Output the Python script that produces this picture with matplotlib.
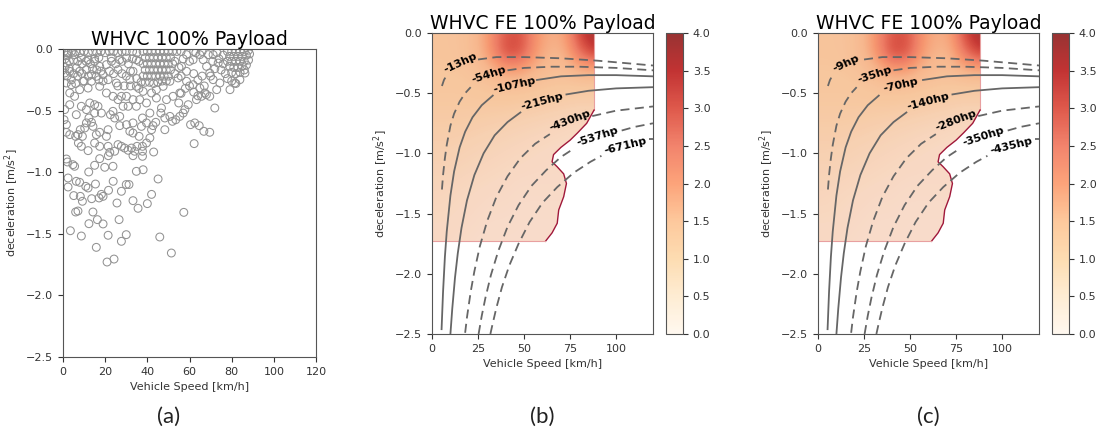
import matplotlib.pyplot as plt
from matplotlib.patches import Polygon
import numpy as np

# ---- panel (a): WHVC scatter, speed [km/h] vs deceleration [m/s2] ----
scatter_speed = [
    57.3, 51.4, 45.9, 45.1, 42, 40, 35.6, 33.2, 34.8, 38, 43, 62.2, 69.6, 66.8, 64.6, 60.5, 62.5, 72, 79.2,
    30, 30, 31.3, 27.7, 26.6, 25.6, 23.8, 21.6, 21.4, 20.9, 24.2, 27.7, 15.8, 16.3, 19, 14.2, 12.3, 8.7, 3.5,
    7.1, 6.0, 5.1, 8.2, 9.2, 13.6, 17.1, 18.2, 19, 11.9, 10.8, 2.4, 6.3, 7.9, 2.4, 4.7, 5.5, 1.6, 2.1, 12.2,
    15.4, 15, 19.8, 23.7, 21.5, 17.4, 11.9, 15, 17.4, 21.4, 22.2, 24.5, 26.1, 27.7, 29.2, 30.9, 32.5, 34,
    33.2, 35.1, 37.7, 37.7, 37.7, 39.6, 41.2, 42, 42.7, 44, 48.3, 48.3, 50.7, 51.9, 53.5, 55.4, 57, 57.8,
    59.4, 54.9, 46.7, 46.4, 41.2, 37.7, 37.2, 39.6, 36.1, 33.2, 31.7, 30.1, 33.2, 26.9, 24.5, 22.5, 23.7,
    26.9, 28.5, 30.9, 33.2, 34.8, 36.4, 39.6, 20.6, 21.4, 17.4, 15.8, 14.2, 13.5, 12.3, 11.1, 10.3, 8.2,
    7.1, 6, 9.2, 8.7, 7.3, 3.2, 1.6, 1.6, 0.5, 0.8, 3.2, 6.3, 8.7, 11.1, 12.7, 15, 16.6, 18.2, 15, 5.5, 3.2,
    7.9, 11.9, 9.5, 13.5, 17.4, 20.6, 23.7, 26.1, 27.7, 30.1, 25.3, 21.4, 26.1, 30.1, 26.9, 22.9, 20.6,
    17.4, 15, 11.9, 8.7, 5.5, 2.4, 1.6, 0.8, 3.2, 6.3, 7.9, 11.1, 13.5, 15.8, 19, 1.6, 4, 1.6, 34.8, 33.2,
    31.7, 34.8, 38, 42, 44.3, 47.5, 50.7, 54.6, 58.6, 61.7, 64.9, 67.3, 69.6, 65.7, 63.3, 55.4, 52.2, 49.1,
    44.3, 72.9, 74.4, 71.2, 69.6, 68.1, 66.5, 68.9, 64.9, 61.7, 58.6, 56.2, 58.6, 71.2, 73.6, 81.5, 83.9,
    86.3,
    38, 40, 42, 44, 46, 48, 50, 52, 39, 41, 43, 45, 47, 49, 51, 38, 40, 42, 44, 46, 48, 50, 52,
    39, 41, 43, 45, 47, 49, 51, 38, 40, 42, 44, 46, 48, 50, 37, 39, 41, 43, 45, 47, 49,
    78, 80, 82, 84, 86, 88, 79, 81, 83, 85, 87, 88.5, 78, 80, 82, 84, 86, 88, 79, 81, 83, 85, 87,
    80, 82, 84, 86, 76, 74, 76, 75, 77, 78, 80, 82, 73, 71, 72, 70,
    0.5, 2, 4, 6, 8, 10, 12, 14, 16, 18, 20, 1, 3, 5, 7, 9, 11, 13, 15, 17, 1, 3, 5, 7, 9, 12, 14, 16, 18,
    2, 4, 6, 10, 17, 19,
    22, 24, 26, 28, 30, 33, 35, 23, 25, 28, 31, 33, 36, 22, 24, 28, 30, 32, 35, 26, 29, 32, 36,
    54, 56, 62, 63, 66, 57, 60, 53, 55, 53, 56, 62, 64, 66, 60, 62, 67, 58, 56, 64, 68,
]
scatter_decel = [
    -1.326, -1.656, -1.526, -1.055, -1.18, -1.255, -1.293, -1.231, -0.993, -0.98, -0.836, -0.768, -0.676,
    -0.668, -0.622, -0.614, -0.60, -0.479, -0.33,
    -1.507, -1.10, -1.10, -1.155, -1.385, -1.25, -1.074, -1.147, -1.512, -1.729, -1.705, -1.561, -1.61,
    -1.385, -1.42, -1.323, -1.418, -1.518, -1.475,
    -1.315, -1.323, -1.19, -1.196, -1.236, -1.215, -1.209, -1.18, -1.196, -1.128, -1.115, -1.12, -1.074,
    -1.082, -1.047, -0.939, -0.952, -0.893, -0.917, -0.998,
    -1.096, -0.944, -0.96, -0.952, -0.866, -0.89, -0.825, -0.763, -0.79, -0.79, -0.839, -0.83, -0.776,
    -0.79, -0.804, -0.822, -0.804, -0.83,
    -0.866, -0.79, -0.79, -0.83, -0.871, -0.763, -0.722, -0.655, -0.622, -0.595, -0.655, -0.56, -0.547,
    -0.587, -0.574, -0.547, -0.52, -0.492,
    -0.452, -0.438, -0.479, -0.52, -0.52, -0.56, -0.628, -0.60, -0.709, -0.682, -0.668, -0.614, -0.60,
    -0.622, -0.56, -0.533, -0.506,
    -0.547, -0.465, -0.465, -0.411, -0.465, -0.411, -0.438, -0.709, -0.655, -0.676, -0.695, -0.628,
    -0.595, -0.56, -0.60, -0.641, -0.655,
    -0.695, -0.709, -0.709, -0.79, -0.763, -0.695, -0.676, -0.614, -0.574, -0.492, -0.452, -0.533,
    -0.465, -0.492, -0.438, -0.452, -0.465, -0.52, -0.52, -0.384, -0.357,
    -0.33, -0.317, -0.262, -0.262, -0.303, -0.357, -0.384, -0.411, -0.384, -0.384, -0.276, -0.249,
    -0.168, -0.073, -0.087, -0.073, -0.127,
    -0.141, -0.10, -0.087, -0.073, -0.046, -0.032, -0.114, -0.195, -0.181, -0.154, -0.181, -0.168,
    -0.208, -0.222, -0.208, -0.276, -0.29, -0.032, -0.087, -0.181,
    -0.249, -0.303, -0.344, -0.357, -0.33, -0.303, -0.262, -0.235, -0.262, -0.29, -0.317, -0.357,
    -0.384, -0.384, -0.411, -0.357, -0.384, -0.411,
    -0.398, -0.33, -0.276, -0.249, -0.195, -0.141, -0.087, -0.046, -0.046, -0.087, -0.046, -0.141,
    -0.181, -0.046, -0.114, -0.276, -0.249,
    -0.195,
    -0.02, -0.02, -0.02, -0.02, -0.02, -0.02, -0.02, -0.02, -0.07, -0.07, -0.07, -0.07, -0.07, -0.07,
    -0.07, -0.12, -0.12, -0.12, -0.12, -0.12, -0.12, -0.12, -0.12,
    -0.17, -0.17, -0.17, -0.17, -0.17, -0.17, -0.17, -0.22, -0.22, -0.22, -0.22, -0.22, -0.22, -0.22,
    -0.27, -0.27, -0.27, -0.28, -0.27, -0.26, -0.26,
    -0.02, -0.02, -0.02, -0.02, -0.02, -0.01, -0.06, -0.06, -0.06, -0.06, -0.05, -0.04, -0.1, -0.1,
    -0.1, -0.1, -0.1, -0.09, -0.14, -0.15, -0.15, -0.14, -0.13,
    -0.19, -0.2, -0.19, -0.17, -0.05, -0.08, -0.12, -0.17, -0.2, -0.24, -0.26, -0.28, -0.03, -0.1,
    -0.16, -0.22,
    -0.02, -0.05, -0.02, -0.02, -0.03, -0.02, -0.03, -0.02, -0.03, -0.02, -0.03, -0.08, -0.1, -0.09,
    -0.1, -0.12, -0.1, -0.12, -0.08, -0.07, -0.15, -0.16, -0.2, -0.22, -0.2, -0.22, -0.16, -0.17, -0.18,
    -0.22, -0.25, -0.28, -0.26, -0.25, -0.26,
    -0.02, -0.02, -0.03, -0.02, -0.02, -0.02, -0.03, -0.1, -0.12, -0.1, -0.12, -0.08, -0.1, -0.18,
    -0.2, -0.2, -0.22, -0.18, -0.24, -0.3, -0.3, -0.3, -0.32,
    -0.02, -0.02, -0.02, -0.03, -0.02, -0.08, -0.1, -0.1, -0.15, -0.2, -0.22, -0.2, -0.25, -0.22,
    -0.3, -0.35, -0.3, -0.32, -0.36, -0.38, -0.37,
]

# ---- panels (b)/(c): constant power curves, split where the inline label sits ----
curves = [
    # (left part x, left part y, right part x, right part y, dashed)
    ([5.4, 6.5, 8], [-0.44, -0.39, -0.35],
     [25, 35, 50, 70, 90, 105, 120], [-0.22, -0.20, -0.20, -0.21, -0.23, -0.25, -0.27], True),
    ([5.4, 6, 7, 8, 10, 12, 15, 18, 21], [-1.30, -1.18, -1.04, -0.93, -0.77, -0.67, -0.57, -0.50, -0.45],
     [41, 50, 65, 80, 100, 120], [-0.31, -0.29, -0.28, -0.28, -0.29, -0.31], True),
    ([5.2, 6, 7, 8, 10, 12, 15, 18, 22, 27, 33],
     [-2.46, -2.15, -1.86, -1.65, -1.35, -1.15, -0.95, -0.82, -0.70, -0.60, -0.52],
     [57, 70, 85, 100, 120], [-0.39, -0.36, -0.35, -0.35, -0.36], False),
    ([10, 11, 12.5, 14, 16, 19, 23, 28, 34, 41, 48],
     [-2.50, -2.29, -2.03, -1.83, -1.62, -1.39, -1.18, -1.00, -0.85, -0.74, -0.66],
     [73, 85, 100, 120], [-0.51, -0.48, -0.46, -0.45], False),
    ([18, 19, 21, 23, 26, 30, 35, 41, 48, 56, 64],
     [-2.49, -2.36, -2.15, -1.98, -1.77, -1.56, -1.36, -1.19, -1.04, -0.92, -0.84],
     [87, 100, 120], [-0.69, -0.645, -0.61], True),
    ([25.3, 27, 29, 32, 36, 41, 47, 54, 62, 70, 77],
     [-2.50, -2.35, -2.20, -2.01, -1.81, -1.61, -1.43, -1.27, -1.14, -1.03, -0.96],
     [103, 110, 120], [-0.81, -0.78, -0.75], True),
    ([31.7, 33, 35, 38, 42, 47, 53, 60, 68, 77, 86, 92],
     [-2.50, -2.41, -2.28, -2.11, -1.93, -1.75, -1.57, -1.41, -1.28, -1.16, -1.07, -1.02],
     [118, 120], [-0.88, -0.88], True),
]
label_x = [15.4, 30.8, 45, 60, 75, 90, 105]
label_y = [-0.25, -0.35, -0.43, -0.57, -0.73, -0.86, -0.94]
label_rot = [25, 18, 13, 15, 21, 18, 14]
labels_b = ['-13hp', '-54hp', '-107hp', '-215hp', '-430hp', '-537hp', '-671hp']
labels_c = ['-9hp', '-35hp', '-70hp', '-140hp', '-280hp', '-350hp', '-435hp']

# operating region boundary
region_x = [0, 88, 88, 84, 79, 75, 70, 66, 65.2, 67.9, 71.5, 73, 71.5, 68.8, 68, 65.2, 61.6, 0]
region_y = [0, 0, -0.64, -0.75, -0.83, -0.89, -0.95, -1.01, -1.07, -1.11, -1.17, -1.25, -1.36,
            -1.47, -1.58, -1.66, -1.73, -1.73]

# fuel energy density, cell centres every 8 km/h (0..88) and 0.15 m/s2 (0..-1.8)
density = [
    [1.1, 1.1, 1.15, 1.4, 2.1, 3.0, 3.1, 2.1, 1.6, 1.8, 3.3, 4.0],
    [1.1, 1.1, 1.15, 1.4, 2.1, 3.3, 3.2, 2.0, 1.5, 1.6, 2.8, 3.5],
    [1.05, 1.05, 1.1, 1.2, 1.5, 1.9, 1.9, 1.5, 1.3, 1.3, 1.6, 1.7],
    [1.0, 1.0, 1.0, 1.05, 1.1, 1.15, 1.15, 1.1, 1.05, 1.0, 1.0, 1.0],
    [0.95, 0.95, 0.95, 0.95, 0.95, 0.95, 0.9, 0.85, 0.8, 0.75, 0.7, 0.7],
    [0.85, 0.85, 0.85, 0.8, 0.75, 0.7, 0.65, 0.6, 0.55, 0.5, 0.45, 0.45],
    [0.75, 0.75, 0.7, 0.65, 0.6, 0.55, 0.5, 0.45, 0.4, 0.35, 0.3, 0.3],
    [0.65, 0.65, 0.6, 0.55, 0.5, 0.45, 0.4, 0.35, 0.3, 0.3, 0.3, 0.3],
    [0.55, 0.55, 0.5, 0.45, 0.4, 0.35, 0.3, 0.3, 0.3, 0.3, 0.3, 0.3],
    [0.5, 0.45, 0.4, 0.35, 0.3, 0.3, 0.25, 0.25, 0.25, 0.25, 0.25, 0.25],
    [0.4, 0.4, 0.35, 0.3, 0.25, 0.25, 0.2, 0.2, 0.2, 0.2, 0.2, 0.2],
    [0.35, 0.35, 0.3, 0.25, 0.2, 0.2, 0.2, 0.2, 0.2, 0.2, 0.2, 0.2],
    [0.3, 0.3, 0.25, 0.2, 0.2, 0.2, 0.2, 0.2, 0.2, 0.2, 0.2, 0.2],
]

W, H = 1101, 432
fig = plt.figure(figsize=(W / 100, H / 100), dpi=100)
spine_c = '#555555'


def style_axes(ax):
    for s in ax.spines.values():
        s.set_color(spine_c)
    ax.tick_params(colors='#333333', labelsize=8, length=3.5, width=0.8)
    ax.set_ylim(-2.5, 0)
    ax.set_xlim(0, 120)
    ax.set_xlabel('Vehicle Speed [km/h]', fontsize=8, color='#333333')
    ax.set_ylabel('deceleration [m/s$^2$]', fontsize=8, color='#333333')


ax_a = fig.add_axes([63 / W, 1 - 357 / H, 253 / W, 308 / H])
ax_a.scatter(scatter_speed, scatter_decel, s=32, facecolors='none', edgecolors='#929292', linewidths=0.75)
style_axes(ax_a)
ax_a.set_xticks([0, 20, 40, 60, 80, 100, 120])
ax_a.set_title('WHVC 100% Payload', fontsize=13.5, pad=3)


def draw_fe(left, cb_left, labels):
    ax = fig.add_axes([left / W, 1 - 334 / H, 221 / W, 301 / H])
    region = Polygon(list(zip(region_x, region_y)), closed=True, facecolor='#d8553a', alpha=0.15,
                     edgecolor='none', zorder=1)
    ax.add_patch(region)
    clip = Polygon(list(zip(region_x, region_y)), closed=True, transform=ax.transData)
    img = ax.imshow(np.array(density), extent=[-4, 92, -1.875, 0.075], origin='upper', aspect='auto',
                    interpolation='bicubic', cmap='OrRd', vmin=0, vmax=4, alpha=0.8, zorder=0.5)
    img.set_clip_path(clip)
    ax.plot(region_x[:2] + region_x[1:3], region_y[:2] + region_y[1:3], color='#e8a0a0', lw=0.8, zorder=2)
    ax.plot(region_x[2:17], region_y[2:17], color='#a0183a', lw=1.0, zorder=2)
    ax.plot(region_x[16:], region_y[16:], color='#e8a0a0', lw=0.8, zorder=2)
    for lx, ly, rx, ry, dashed in curves:
        for xs, ys in ((lx, ly), (rx, ry)):
            line, = ax.plot(xs, ys, color='#666666', lw=1.3, zorder=3)
            if dashed:
                line.set_dashes((5, 3))
    for x, y, r, t in zip(label_x, label_y, label_rot, labels):
        ax.text(x, y, t, rotation=r, fontsize=8, fontweight='bold', color='black',
                ha='center', va='center', zorder=4)
    style_axes(ax)
    ax.set_xticks([0, 25, 50, 75, 100])
    ax.set_title('WHVC FE 100% Payload', fontsize=13.5, pad=3)
    cax = fig.add_axes([cb_left / W, 1 - 334 / H, 17 / W, 301 / H])
    cb = fig.colorbar(img, cax=cax, ticks=np.arange(0, 4.01, 0.5))
    cb.outline.set_edgecolor(spine_c)
    cax.tick_params(colors='#333333', labelsize=8, length=3.5, width=0.8)
    return ax


ax_b = draw_fe(432, 666, labels_b)
ax_c = draw_fe(818, 1052, labels_c)

for x, t in ((169, '(a)'), (542, '(b)'), (928, '(c)')):
    fig.text(x / W, 1 - 417 / H, t, fontsize=16, family='Lato', ha='center', va='center', color='#222222')

fig.savefig('out.png', dpi=100)
